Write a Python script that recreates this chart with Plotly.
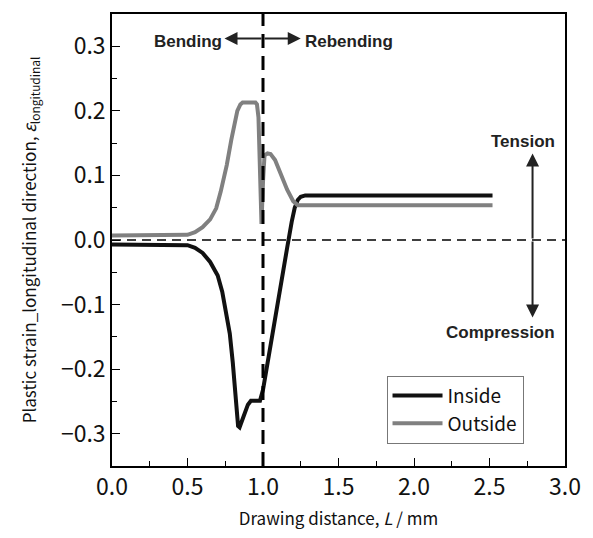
import plotly.graph_objects as go

inside_x = [0, 0.45, 0.5, 0.55, 0.6, 0.65, 0.7, 0.73, 0.76, 0.78, 0.8, 0.815, 0.825, 0.835, 0.845, 0.86, 0.88, 0.9, 0.92, 0.98, 1.0, 1.04, 1.08, 1.12, 1.16, 1.19, 1.21, 1.23, 1.25, 1.28, 2.52]
inside_y = [-0.007, -0.007, -0.008, -0.012, -0.02, -0.034, -0.055, -0.08, -0.115, -0.145, -0.19, -0.235, -0.27, -0.288, -0.29, -0.28, -0.265, -0.255, -0.249, -0.249, -0.232, -0.175, -0.12, -0.065, -0.012, 0.028, 0.05, 0.062, 0.067, 0.069, 0.069]

outside_x = [0, 0.45, 0.5, 0.55, 0.6, 0.65, 0.69, 0.72, 0.76, 0.79, 0.81, 0.83, 0.85, 0.865, 0.95, 0.96, 0.97, 0.98, 0.99, 1.0, 1.01, 1.03, 1.05, 1.08, 1.12, 1.16, 1.2, 1.23, 2.52]
outside_y = [0.007, 0.007, 0.008, 0.012, 0.02, 0.032, 0.049, 0.075, 0.116, 0.155, 0.18, 0.2, 0.21, 0.213, 0.213, 0.21, 0.19, 0.1, 0.025, 0.09, 0.131, 0.134, 0.133, 0.124, 0.1, 0.078, 0.06, 0.054, 0.054]

x_ticks = [0.0, 0.5, 1.0, 1.5, 2.0, 2.5, 3.0]
y_ticks = [-0.3, -0.2, -0.1, 0.0, 0.1, 0.2, 0.3]

fig = go.Figure()
fig.add_trace(go.Scatter(x=inside_x, y=inside_y, mode="lines", name="Inside",
                         line=dict(color="#111111", width=4)))
fig.add_trace(go.Scatter(x=outside_x, y=outside_y, mode="lines", name="Outside",
                         line=dict(color="#808080", width=4)))

# reference lines
fig.add_shape(type="line", x0=0, x1=3, y0=0, y1=0, xref="x", yref="y",
              line=dict(color="black", width=1.5, dash="9px,6px"), layer="below")
fig.add_shape(type="line", x0=1, x1=1, y0=-0.35, y1=0.35, xref="x", yref="y",
              line=dict(color="black", width=3, dash="14px,8px"))

tick_font = dict(family="Noto Sans CJK JP", size=23, color="#111111")
fig.update_xaxes(range=[0, 3.0], tickvals=x_ticks, ticktext=[f"{v:.1f}" for v in x_ticks],
                 ticks="inside", ticklen=8, tickwidth=1, tickcolor="black",
                 minor=dict(ticks="inside", ticklen=5, dtick=0.25, tickcolor="black"),
                 showline=True, linecolor="black", linewidth=1.5, mirror=True,
                 showgrid=False, zeroline=False, tickfont=tick_font,
                 title=dict(text="Drawing distance, <i>L</i> / mm",
                            font=dict(family="Noto Sans CJK JP", size=17, color="#111111"), standoff=12))
fig.update_yaxes(range=[-0.35, 0.35], tickvals=y_ticks,
                 ticktext=["\u22120.3", "\u22120.2", "\u22120.1", "0.0", "0.1", "0.2", "0.3"],
                 ticks="inside", ticklen=8, tickwidth=1, tickcolor="black",
                 minor=dict(ticks="inside", ticklen=5, dtick=0.05, tickcolor="black"),
                 showline=True, linecolor="black", linewidth=1.5, mirror=True,
                 showgrid=False, zeroline=False, tickfont=tick_font,
                 title=dict(text="Plastic strain_longitudinal direction, <i>ε</i><sub>longitudinal</sub>",
                            font=dict(family="Noto Sans CJK JP", size=17, color="#111111"), standoff=20))

ann_font = dict(family="Liberation Sans", size=17, color="#222222")
fig.add_annotation(x=0.50, y=0.308, text="<b>Bending</b>", showarrow=False, font=ann_font)
fig.add_annotation(x=1.568, y=0.308, text="<b>Rebending</b>", showarrow=False, font=ann_font)
arrow_style = dict(xref="x", yref="y", axref="x", ayref="y", text="", showarrow=True,
                   arrowhead=2, arrowsize=1.3, arrowwidth=2, arrowcolor="#222222")
fig.add_annotation(x=0.745, y=0.312, ax=1.0, ay=0.312, **arrow_style)
fig.add_annotation(x=1.25, y=0.312, ax=1.0, ay=0.312, **arrow_style)
fig.add_annotation(x=2.785, y=0.134, ax=2.785, ay=0.0, **arrow_style)
fig.add_annotation(x=2.785, y=-0.120, ax=2.785, ay=0.0, **arrow_style)
fig.add_annotation(x=2.72, y=0.152, text="<b>Tension</b>", showarrow=False, font=ann_font)
fig.add_annotation(x=2.57, y=-0.143, text="<b>Compression</b>", showarrow=False, font=ann_font)

fig.update_layout(
    width=577, height=522,
    margin=dict(l=104, r=19, t=4, b=64),
    plot_bgcolor="white", paper_bgcolor="white",
    legend=dict(x=0.606, y=0.2, xanchor="left", yanchor="top",
                bgcolor="white", bordercolor="#777777", borderwidth=1,
                font=dict(family="Noto Sans CJK JP", size=19, color="#111111"),
                itemwidth=50, tracegroupgap=0),
    showlegend=True,
)

fig.write_html("out.html")
